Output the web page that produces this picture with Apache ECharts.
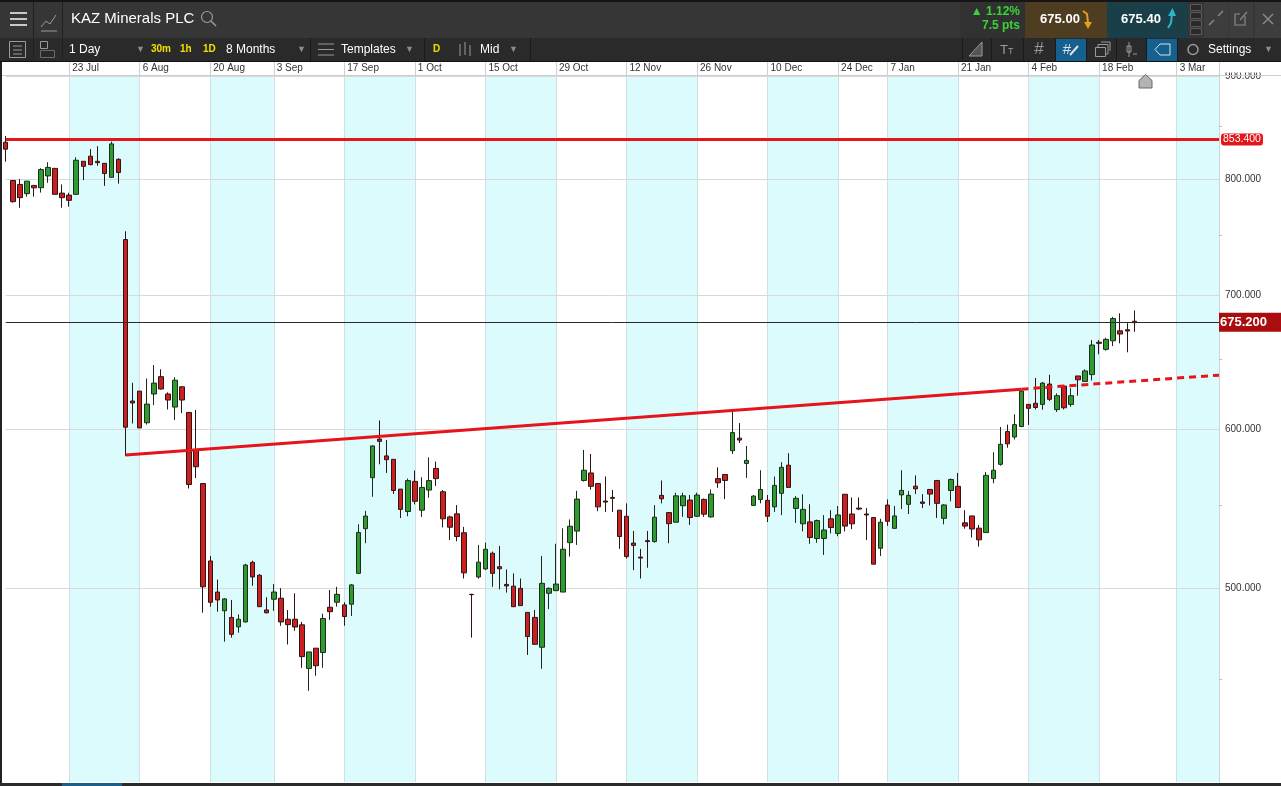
<!DOCTYPE html>
<html>
<head>
<meta charset="utf-8">
<title>KAZ Minerals PLC</title>
<script src="https://cdn.jsdelivr.net/npm/echarts@6.0.0/dist/echarts.min.js"></script>
<style>
html, body { margin: 0; padding: 0; background: #fff; }
#main { width: 1281px; height: 786px; }
</style>
</head>
<body>
<div id="main"></div>
<script>
// daily candles 10 Jul 2018 - 25 Feb 2019
const opens = [
  834.5, 798.6, 795.0, 786.6, 794.1, 792.0, 802.8, 809.8, 787.1, 785.3,
  786.0, 816.4, 821.2, 816.4, 814.5, 801.5, 818.3, 746.2, 619.8, 626.9,
  604.5, 624.8, 637.4, 624.8, 615.5, 630.0, 611.7, 585.9, 563.7, 515.7,
  497.6, 487.0, 483.3, 478.1, 480.8, 514.9, 507.3, 487.5, 493.5, 494.1,
  482.3, 482.3, 479.2, 455.8, 466.5, 464.2, 489.0, 491.8, 490.3, 490.7,
  508.4, 535.2, 567.5, 593.3, 581.9, 579.6, 560.1, 545.9, 565.1, 546.7,
  559.5, 573.6, 558.4, 542.5, 544.4, 532.7, 496.3, 506.3, 511.0, 520.3,
  512.3, 502.0, 501.0, 499.7, 486.1, 483.3, 467.0, 496.9, 498.4, 497.6,
  526.7, 533.7, 565.7, 570.6, 563.7, 552.5, 554.8, 546.7, 542.9, 526.4,
  518.0, 527.9, 527.3, 556.1, 545.2, 539.2, 549.5, 553.1, 542.9, 553.5,
  542.5, 566.9, 569.6, 585.4, 593.9, 576.9, 549.7, 553.5, 552.9, 548.8,
  557.4, 575.7, 547.8, 538.2, 539.4, 529.2, 529.2, 541.3, 532.3, 556.8,
  544.3, 548.0, 544.3, 542.1, 523.3, 549.9, 535.4, 556.4, 550.4, 562.0,
  551.9, 559.9, 565.7, 541.6, 559.2, 561.9, 538.8, 543.1, 535.5, 532.8,
  566.9, 576.3, 598.4, 594.7, 601.9, 617.4, 618.2, 617.4, 632.0, 613.7,
  630.5, 617.4, 637.9, 633.9, 638.9, 663.1, 657.7, 664.2, 671.9, 672.7,
  679.3
];
const highs = [
  840.6, 798.9, 800.0, 798.2, 794.1, 810.0, 815.5, 809.8, 795.0, 787.4,
  820.2, 816.4, 827.9, 830.7, 814.5, 835.1, 819.3, 753.3, 632.9, 626.9,
  636.0, 646.0, 642.8, 626.0, 637.0, 630.5, 611.7, 613.4, 563.7, 518.7,
  504.8, 494.1, 493.1, 485.0, 514.0, 515.9, 508.0, 494.6, 502.2, 499.8,
  487.4, 496.9, 480.8, 464.5, 466.5, 485.4, 498.8, 500.6, 491.8, 502.2,
  537.9, 546.3, 589.0, 606.1, 592.6, 579.6, 560.1, 566.9, 572.2, 567.8,
  581.0, 578.1, 559.5, 543.3, 549.9, 536.3, 496.6, 525.3, 526.7, 521.3,
  524.7, 510.7, 508.4, 505.4, 486.1, 487.4, 518.7, 500.3, 526.0, 535.4,
  540.9, 559.0, 585.9, 583.2, 563.7, 568.3, 559.5, 546.7, 551.0, 533.8,
  522.9, 533.8, 549.9, 565.7, 545.2, 557.8, 557.8, 556.3, 557.8, 554.1,
  559.9, 574.3, 569.6, 613.5, 604.3, 588.6, 556.3, 572.4, 556.3, 568.3,
  577.7, 583.7, 555.6, 556.8, 550.5, 540.8, 543.6, 546.7, 549.3, 556.8,
  554.8, 554.8, 548.0, 542.1, 541.3, 553.5, 549.3, 572.4, 558.8, 569.0,
  556.9, 559.9, 565.7, 550.5, 567.0, 570.6, 546.7, 543.1, 537.5, 571.2,
  584.3, 601.6, 603.2, 610.4, 627.5, 617.4, 636.4, 633.5, 638.8, 625.3,
  631.2, 629.0, 637.9, 642.8, 664.8, 664.8, 666.5, 682.7, 685.5, 677.8,
  687.8
];
const lows = [
  816.0, 778.5, 774.0, 783.9, 783.9, 787.6, 796.5, 786.0, 774.0, 774.9,
  786.0, 799.0, 812.7, 812.2, 793.7, 801.5, 795.7, 581.8, 604.0, 600.9,
  603.2, 616.9, 628.0, 613.8, 606.4, 611.2, 560.5, 567.3, 485.9, 489.3,
  486.5, 470.0, 472.2, 474.9, 480.5, 501.2, 489.3, 485.5, 487.0, 478.7,
  468.5, 475.9, 456.1, 444.2, 452.0, 456.1, 482.0, 489.3, 478.7, 484.1,
  508.4, 526.3, 555.2, 576.3, 570.6, 557.0, 541.8, 542.9, 550.4, 542.5,
  554.6, 562.2, 536.0, 528.2, 527.5, 505.4, 472.2, 505.3, 510.3, 500.6,
  499.1, 497.3, 489.3, 489.9, 462.9, 468.3, 455.6, 487.9, 498.4, 497.6,
  518.3, 525.3, 565.0, 559.7, 546.1, 545.6, 545.6, 522.9, 517.1, 510.3,
  505.4, 511.7, 526.7, 551.0, 526.3, 539.2, 542.5, 537.5, 542.5, 542.5,
  542.1, 560.9, 553.7, 583.2, 590.6, 567.4, 549.7, 551.0, 539.3, 545.6,
  543.6, 561.2, 538.7, 533.5, 526.0, 526.6, 519.3, 532.3, 530.6, 533.5,
  534.9, 546.7, 528.3, 513.8, 518.7, 536.9, 535.4, 547.4, 544.3, 556.9,
  548.0, 549.7, 541.8, 537.9, 552.3, 548.4, 535.2, 529.8, 524.3, 532.8,
  563.9, 575.4, 587.4, 593.0, 601.4, 603.0, 613.8, 613.6, 619.8, 612.0,
  613.8, 615.7, 623.6, 633.5, 634.6, 654.0, 656.7, 660.2, 662.3, 655.5,
  671.1
];
const closes = [
  827.9, 779.4, 783.0, 798.0, 791.9, 808.7, 810.7, 786.0, 783.0, 780.6,
  817.4, 811.7, 813.3, 815.1, 805.0, 832.9, 805.9, 601.4, 618.4, 600.9,
  617.6, 632.7, 628.4, 620.5, 634.8, 620.5, 563.1, 574.7, 500.6, 491.8,
  493.1, 493.7, 474.0, 482.3, 513.3, 506.3, 489.3, 485.9, 497.6, 480.8,
  479.3, 478.0, 462.0, 464.5, 457.2, 482.7, 486.5, 496.3, 483.8, 501.7,
  532.9, 543.0, 588.6, 591.7, 579.4, 559.2, 547.2, 565.6, 552.3, 561.2,
  565.6, 566.9, 541.3, 536.1, 530.4, 508.7, 496.1, 515.0, 522.7, 508.4,
  511.1, 501.1, 489.3, 489.9, 472.8, 468.6, 502.6, 499.7, 502.2, 522.7,
  536.7, 553.7, 572.4, 561.9, 548.8, 551.8, 554.2, 530.4, 518.3, 525.0,
  517.4, 527.3, 542.3, 553.9, 538.3, 555.8, 555.8, 542.1, 556.3, 544.2,
  556.9, 564.2, 565.7, 597.7, 592.6, 578.9, 555.6, 559.9, 542.9, 562.5,
  574.3, 561.2, 554.2, 547.2, 529.8, 540.2, 534.4, 535.9, 543.7, 536.8,
  538.2, 547.4, 543.7, 513.8, 539.2, 539.8, 543.1, 559.3, 556.1, 560.3,
  551.0, 556.9, 551.0, 550.0, 566.3, 548.4, 536.8, 535.0, 528.4, 569.0,
  572.4, 589.7, 590.0, 603.2, 626.9, 614.6, 615.2, 632.7, 621.0, 623.6,
  615.0, 623.6, 635.1, 641.6, 661.0, 662.3, 665.3, 681.4, 669.4, 671.7,
  678.2
];

const firstDay = '2018-07-10';
const lastDay = '2019-03-13';
const holidays = ['2018-08-27', '2018-12-25', '2018-12-26', '2019-01-01'];

const tickDates = ['2018-07-23', '2018-08-06', '2018-08-20', '2018-09-03', '2018-09-17', '2018-10-01',
  '2018-10-15', '2018-10-29', '2018-11-12', '2018-11-26', '2018-12-10', '2018-12-24', '2019-01-07',
  '2019-01-21', '2019-02-04', '2019-02-18', '2019-03-05', '2019-03-13'];
const tickLabels = ['23 Jul', '6 Aug', '20 Aug', '3 Sep', '17 Sep', '1 Oct', '15 Oct', '29 Oct', '12 Nov',
  '26 Nov', '10 Dec', '24 Dec', '7 Jan', '21 Jan', '4 Feb', '18 Feb', '3 Mar', ''];

const priceTicks = [500, 600, 700, 800, 900];
const minorTicks = [450, 550, 650, 750, 850];

// trend line drawn on the chart (solid part, then dashed projection)
const trendDates = ['2018-08-02', '2019-02-01', '2019-03-13'];
const trendValues = [582.5, 628.3, 638.5];

const resistanceValue = 837.6;
const resistanceText = '853.400';
const lastValue = 678.2;
const lastText = '675.200';

const FONT = '"Liberation Sans", Arial, sans-serif';
const L = Math.log;

function tradingDays(from, to) {
  const out = [];
  let d = new Date(from + 'T00:00:00Z');
  const end = new Date(to + 'T00:00:00Z');
  while (d <= end) {
    const s = d.toISOString().slice(0, 10);
    const wd = d.getUTCDay();
    if (wd !== 0 && wd !== 6 && holidays.indexOf(s) < 0) out.push(s);
    d = new Date(d.getTime() + 86400000);
  }
  return out;
}
const categories = tradingDays(firstDay, lastDay);

// the price axis is logarithmic: plot ln(price)
const candleData = opens.map((o, i) => [L(o), L(closes[i]), L(lows[i]), L(highs[i])]);

const isTick = (idx, val) => tickDates.indexOf(val) >= 0;

// ---- toolbar chrome ----
function rect(x, y, w, h, fill, stroke) {
  return { type: 'rect', z: 100, shape: { x: x, y: y, width: w, height: h },
    style: { fill: fill, stroke: stroke || null, lineWidth: 1 } };
}
function txt(x, y, s, fill, size, weight, align) {
  return { type: 'text', z: 101, x: x, y: y,
    style: { text: s, fill: fill, font: (weight || 'normal') + ' ' + size + 'px ' + FONT,
      align: align || 'left', verticalAlign: 'middle' } };
}
function pl(points, stroke, w) {
  return { type: 'polyline', z: 101, shape: { points: points },
    style: { stroke: stroke, lineWidth: w || 1, fill: null } };
}
function poly(points, fill, stroke) {
  return { type: 'polygon', z: 101, shape: { points: points },
    style: { fill: fill, stroke: stroke || null, lineWidth: 1 } };
}

const chrome = [
  rect(0, 0, 1281, 38, '#363636'),
  rect(0, 0, 1281, 2, '#151515'),
  rect(0, 38, 1281, 24, '#2a2a2a'),
  rect(0, 61, 1281, 1, '#111'),
  rect(33, 2, 1, 60, '#202020'),
  rect(62, 2, 1, 60, '#202020'),
  pl([[10, 13], [27, 13]], '#c8c8c8', 2),
  pl([[10, 19], [27, 19]], '#c8c8c8', 2),
  pl([[10, 25], [27, 25]], '#c8c8c8', 2),
  pl([[41, 27], [46, 21], [50, 24], [56, 15]], '#9a9a9a', 1),
  pl([[41, 31], [57, 31]], '#9a9a9a', 1),
  txt(71, 19, 'KAZ Minerals PLC', '#ffffff', 15),
  { type: 'circle', z: 101, shape: { cx: 207, cy: 17, r: 5.5 }, style: { stroke: '#9a9a9a', fill: null, lineWidth: 1.2 } },
  pl([[211, 21], [216, 26]], '#9a9a9a', 1.5),

  rect(960, 2, 65, 36, '#313131'),
  txt(1020, 12, '\u25B2 1.12%', '#39d43a', 12, 'bold', 'right'),
  txt(1020, 26, '7.5 pts', '#39d43a', 12, 'bold', 'right'),
  rect(1025, 2, 82, 36, '#4e3d21'),
  txt(1060, 19, '675.00', '#ffffff', 13, 'bold', 'center'),
  pl([[1083, 11], [1087, 14], [1088, 23]], '#e3a020', 2),
  poly([[1084, 22], [1092, 22], [1088, 29]], '#e3a020'),
  rect(1107, 2, 81, 36, '#1b3f48'),
  txt(1141, 19, '675.40', '#ffffff', 13, 'bold', 'center'),
  pl([[1168, 28], [1171, 23], [1172, 14]], '#2ab6c6', 2),
  poly([[1168, 16], [1176, 16], [1172.5, 8]], '#2ab6c6'),
  rect(1190.5, 4.5, 11, 6, '#2a2a2a', '#5a5a5a'),
  rect(1190.5, 12.5, 11, 6, '#2a2a2a', '#5a5a5a'),
  rect(1190.5, 20.5, 11, 6, '#2a2a2a', '#5a5a5a'),
  rect(1190.5, 28.5, 11, 6, '#2a2a2a', '#5a5a5a'),
  rect(1204, 2, 24, 36, '#3d3d3d'),
  rect(1229, 2, 24, 36, '#3d3d3d'),
  rect(1255, 2, 26, 36, '#3d3d3d'),
  pl([[1209, 25], [1214, 20]], '#8a8a8a', 1.5), pl([[1218, 16], [1223, 11]], '#8a8a8a', 1.5),
  pl([[1245, 16], [1245, 25], [1235, 25], [1235, 14], [1240, 14]], '#8a8a8a', 1.2),
  pl([[1240, 20], [1247, 12]], '#8a8a8a', 1.2),
  pl([[1263, 14], [1273, 24]], '#8a8a8a', 1.5), pl([[1273, 14], [1263, 24]], '#8a8a8a', 1.5),

  // second row
  rect(9.5, 41.5, 16, 16, null, '#9a9a9a'),
  pl([[13, 46], [22, 46]], '#9a9a9a', 1), pl([[13, 50], [22, 50]], '#9a9a9a', 1), pl([[13, 54], [22, 54]], '#9a9a9a', 1),
  rect(40.5, 41.5, 7, 7, null, '#9a9a9a'),
  rect(40.5, 50.5, 14, 7, null, '#6a6a6a'),
  txt(69, 49.5, '1 Day', '#ffffff', 12),
  txt(136, 49.5, '\u25BC', '#8d8d8d', 9),
  txt(151, 49.5, '30m', '#f0e000', 10, 'bold'),
  txt(180, 49.5, '1h', '#f0e000', 10, 'bold'),
  txt(203, 49.5, '1D', '#f0e000', 10, 'bold'),
  txt(226, 49.5, '8 Months', '#ffffff', 12),
  txt(297, 49.5, '\u25BC', '#8d8d8d', 9),
  rect(310, 38, 1, 23, '#1a1a1a'),
  pl([[318, 44], [334, 44]], '#9a9a9a', 1), pl([[318, 49.5], [334, 49.5]], '#9a9a9a', 1), pl([[318, 55], [334, 55]], '#9a9a9a', 1),
  txt(341, 49.5, 'Templates', '#ffffff', 12),
  txt(405, 49.5, '\u25BC', '#8d8d8d', 9),
  rect(424, 38, 1, 23, '#1a1a1a'),
  txt(433, 49.5, 'D', '#f0e000', 10, 'bold'),
  pl([[460, 44], [460, 56]], '#9a9a9a', 1), pl([[465, 42], [465, 55]], '#9a9a9a', 1), pl([[470, 45], [470, 56]], '#9a9a9a', 1),
  txt(480, 49.5, 'Mid', '#ffffff', 12),
  txt(509, 49.5, '\u25BC', '#8d8d8d', 9),
  rect(530, 38, 1, 23, '#1a1a1a'),

  rect(962, 38, 1, 23, '#1a1a1a'), rect(991, 38, 1, 23, '#1a1a1a'), rect(1023, 38, 1, 23, '#1a1a1a'),
  rect(1055, 38, 1, 23, '#1a1a1a'), rect(1086, 38, 1, 23, '#1a1a1a'), rect(1116, 38, 1, 23, '#1a1a1a'),
  rect(1146, 38, 1, 23, '#1a1a1a'), rect(1177, 38, 1, 23, '#1a1a1a'),
  rect(1056, 39, 30, 22, '#14618f'),
  rect(1147, 39, 30, 22, '#14618f'),
  poly([[969, 56], [982, 56], [982, 42]], '#555555', '#9a9a9a'),
  txt(1000, 50, 'T', '#9a9a9a', 13), txt(1008, 52, 'T', '#9a9a9a', 9),
  txt(1039, 49.5, '#', '#9a9a9a', 17, 'normal', 'center'),
  txt(1067, 49.5, '#', '#e0e0e0', 15, 'normal', 'center'),
  pl([[1070, 55], [1078, 46]], '#e0e0e0', 2),
  rect(1095.5, 47.5, 10, 9, null, '#9a9a9a'), pl([[1098, 47], [1098, 44.5], [1108, 44.5], [1108, 54], [1106, 54]], '#9a9a9a', 1),
  pl([[1101, 42], [1110, 42], [1110, 51]], '#9a9a9a', 1),
  pl([[1129, 42], [1129, 57]], '#9a9a9a', 1), rect(1127, 46, 4, 6, null, '#9a9a9a'), pl([[1133, 54], [1137, 54]], '#9a9a9a', 1),
  poly([[1155, 49.5], [1160, 44], [1170, 44], [1170, 55], [1160, 55]], null, '#e0e0e0'),
  { type: 'circle', z: 101, shape: { cx: 1193, cy: 49.5, r: 5 }, style: { stroke: '#9a9a9a', fill: null, lineWidth: 1.5 } },
  txt(1208, 49.5, 'Settings', '#ffffff', 12),
  txt(1264, 49.5, '\u25BC', '#8d8d8d', 9),

  // chart surround
  rect(1220, 62, 61, 10.5, '#ffffff'),
  rect(0, 75, 1281, 1, '#cdcdcd'),
  rect(0, 62, 2, 721, '#222222'),
  rect(0, 783, 1281, 3, '#2b2b2b'),
  rect(62, 783, 60, 3, '#1d5f86'),
  poly([[1139, 88], [1139, 80.5], [1145.5, 74.5], [1152, 80.5], [1152, 88]], '#b3b3b3', '#666666')
];

const chart = echarts.init(document.getElementById('main'));
chart.setOption({
  animation: false,
  backgroundColor: '#ffffff',
  textStyle: { fontFamily: FONT },
  graphic: { elements: chrome },
  grid: { left: 5.7, right: 62, top: 76.5, bottom: 4, outerBoundsMode: 'none', containLabel: false },
  xAxis: {
    type: 'category',
    position: 'top',
    z: 0,
    data: categories,
    boundaryGap: false,
    axisLine: { show: false },
    axisTick: { show: true, interval: isTick, length: 14, lineStyle: { color: '#cfcfcf' } },
    axisLabel: {
      interval: isTick, align: 'left', margin: 3, padding: [0, 0, 0, 3],
      color: '#333', fontSize: 10, fontFamily: FONT,
      formatter: function (v) { const i = tickDates.indexOf(v); return i < 0 ? '' : tickLabels[i]; }
    },
    splitLine: { show: true, interval: isTick, lineStyle: { color: '#cde0e3', width: 1 } },
    splitArea: { show: true, interval: isTick, areaStyle: { color: ['#dcfbfd', 'rgba(255,255,255,0)'] } }
  },
  yAxis: [{
    type: 'value',
    position: 'right',
    z: 1,
    min: L(400), max: L(900),
    axisLine: { show: true, lineStyle: { color: '#c9d6d9' } },
    axisTick: { show: false, customValues: priceTicks.map(L) },
    axisLabel: {
      customValues: priceTicks.map(L), color: '#333', fontSize: 10, margin: 6, fontFamily: FONT,
      formatter: function (v) { return Math.exp(v).toFixed(3); }
    },
    splitLine: { show: true, lineStyle: { color: '#d9d9d9' } }
  }, {
    type: 'value',
    position: 'right',
    z: 1,
    min: L(400), max: L(900),
    axisLine: { show: false },
    axisTick: { show: true, length: 3, customValues: minorTicks.map(L), lineStyle: { color: '#c0c0c0' } },
    axisLabel: { show: false },
    splitLine: { show: false }
  }],
  series: [{
    name: 'KAZ Minerals PLC',
    type: 'candlestick',
    data: candleData,
    barWidth: 5,
    itemStyle: {
      color: '#2f9b2f', color0: '#cc1f1f',
      borderColor: '#1c2b1c', borderColor0: '#2e1414', borderWidth: 1
    },
    markLine: {
      silent: true,
      symbol: ['none', 'none'],
      data: [{
        yAxis: L(resistanceValue),
        lineStyle: { color: '#e3161b', width: 3, type: 'solid' },
        label: {
          position: 'end', formatter: resistanceText, distance: 2, color: '#fff', fontSize: 10.5,
          fontFamily: FONT, backgroundColor: '#e3161b', padding: [1, 2, 0, 2], borderRadius: 3
        }
      }, {
        yAxis: L(lastValue),
        lineStyle: { color: '#2b2b2b', width: 1, type: 'solid' },
        label: {
          position: 'end', formatter: lastText, distance: 0, color: '#fff', fontSize: 13, fontWeight: 'bold',
          fontFamily: FONT, backgroundColor: '#a90d0d', padding: [3, 19, 3, 1]
        }
      }]
    }
  }, {
    name: 'trend',
    type: 'line',
    symbol: 'none',
    data: [[trendDates[0], L(trendValues[0])], [trendDates[1], L(trendValues[1])]],
    lineStyle: { color: '#e6141b', width: 3 },
    z: 3
  }, {
    name: 'trend projection',
    type: 'line',
    symbol: 'none',
    data: [[trendDates[1], L(trendValues[1])], [trendDates[2], L(trendValues[2])]],
    lineStyle: { color: '#e6141b', width: 3, type: [7, 5] },
    z: 3
  }]
});
</script>
</body>
</html>
